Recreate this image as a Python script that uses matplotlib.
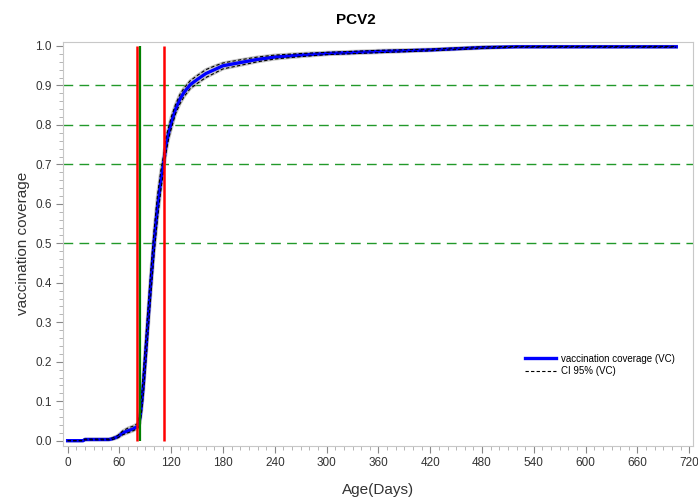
import matplotlib
matplotlib.use("Agg")
import matplotlib.pyplot as plt
from matplotlib.ticker import MultipleLocator

plt.rcParams['font.family'] = ['Liberation Sans', 'DejaVu Sans']

# age in days and vaccination coverage (VC) with 95% CI
days = [0, 18, 20, 48, 52, 58, 64, 70, 76, 80, 82, 84, 86, 88, 92, 96, 100, 104, 108, 111,
        114, 117, 120, 125, 130, 135, 142, 150, 160, 170, 180, 200, 220, 240, 270, 300,
        360, 420, 480, 520, 600, 660, 705]
vc = [0.0, 0.0, 0.003, 0.003, 0.005, 0.010, 0.020, 0.025, 0.030, 0.035, 0.040, 0.060, 0.100,
      0.150, 0.270, 0.390, 0.500, 0.590, 0.660, 0.700, 0.750, 0.780, 0.805, 0.840, 0.865,
      0.883, 0.902, 0.915, 0.930, 0.940, 0.950, 0.958, 0.966, 0.972, 0.977, 0.981,
      0.986, 0.990, 0.996, 0.998, 0.998, 0.998, 0.998]
ci_low = [0.0, 0.0, 0.002, 0.002, 0.003, 0.007, 0.015, 0.020, 0.025, 0.030, 0.033, 0.045,
          0.080, 0.125, 0.240, 0.360, 0.470, 0.560, 0.635, 0.680, 0.730, 0.765, 0.790,
          0.828, 0.853, 0.872, 0.892, 0.905, 0.920, 0.931, 0.942, 0.951, 0.960, 0.967,
          0.973, 0.978, 0.983, 0.988, 0.994, 0.997, 0.997, 0.997, 0.997]
ci_high = [0.0, 0.0, 0.004, 0.004, 0.007, 0.013, 0.025, 0.032, 0.037, 0.042, 0.048, 0.075,
           0.120, 0.180, 0.300, 0.420, 0.530, 0.620, 0.685, 0.720, 0.770, 0.795, 0.820,
           0.852, 0.877, 0.894, 0.912, 0.925, 0.940, 0.949, 0.957, 0.965, 0.972, 0.977,
           0.981, 0.984, 0.989, 0.992, 0.998, 0.999, 0.999, 0.999, 0.999]

ref_levels = [0.5, 0.7, 0.8, 0.9]   # green dashed reference lines
red_days = [80, 112]
green_days = [84]

fig = plt.figure(figsize=(6.98, 5.01), dpi=100)
ax = fig.add_axes([0.0907, 0.1104, 0.9017, 0.8052])

for lvl in ref_levels:
    ax.axhline(lvl, color='#22992a', lw=1.0, dashes=(7, 4.5), zorder=1)

# CI band lines: grey underlay plus black dashes
ax.plot(days, ci_low, color='#999999', lw=2.2, alpha=0.6, zorder=2)
ax.plot(days, ci_high, color='#999999', lw=2.2, alpha=0.6, zorder=2)
ax.plot(days, vc, color='#0000ff', lw=2.4, zorder=3, label='vaccination coverage (VC)')
ax.plot(days, ci_low, color='black', lw=0.8, dashes=(3, 2), zorder=4, label='CI 95% (VC)')
ax.plot(days, ci_high, color='black', lw=0.8, dashes=(3, 2), zorder=4)

ax.vlines(red_days, 0, 1, color='#ff0000', lw=1.8, zorder=5)
ax.vlines(green_days, 0, 1, color='#008000', lw=1.6, zorder=5)

ax.set_xlim(-5, 724)
ax.set_ylim(-0.0127, 1.0094)
ax.xaxis.set_major_locator(MultipleLocator(60))
ax.xaxis.set_minor_locator(MultipleLocator(10))
ax.yaxis.set_major_locator(MultipleLocator(0.1))
ax.yaxis.set_minor_locator(MultipleLocator(0.02))
ax.yaxis.set_major_formatter(plt.FormatStrFormatter('%.1f'))

for s in ax.spines.values():
    s.set_color('#c8c8c8')
ax.tick_params(which='major', direction='out', length=5, color='#888888',
               labelsize=8.5, labelcolor='#333333')
ax.tick_params(which='minor', direction='out', length=3, color='#aaaaaa')

ax.set_xlabel('Age(Days)', fontsize=11, color='#333333', labelpad=10)
fig.text(23 / 698, 1 - 243 / 501, 'vaccination coverage', rotation=90, fontsize=11,
         color='#333333', ha='center', va='center')
fig.text(356 / 698, 1 - 20 / 501, 'PCV2', fontsize=11, fontweight='bold',
         ha='center', va='center')

ax.legend(loc='upper left', bbox_to_anchor=(0.72, 0.25), frameon=False, fontsize=7,
          handlelength=3.2, handletextpad=0.5, labelspacing=0.25)

fig.savefig('out.png', dpi=100)
